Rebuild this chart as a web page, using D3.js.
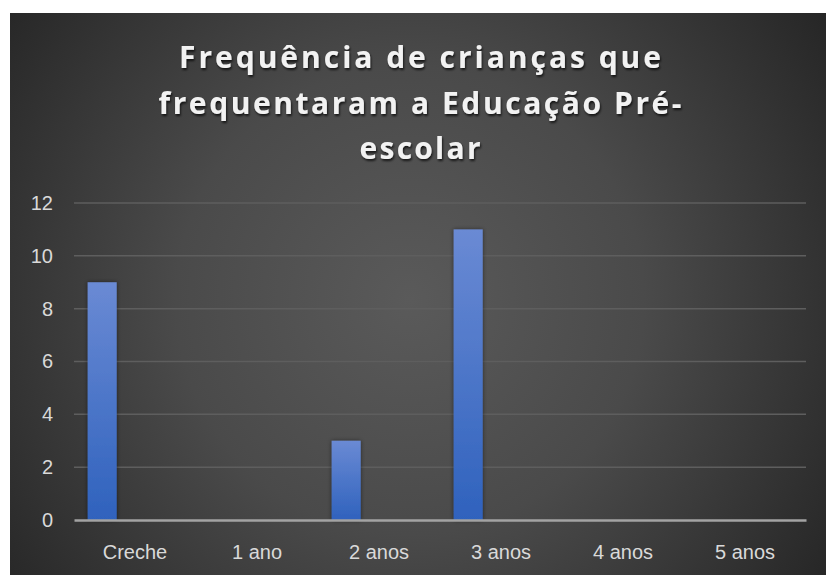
<!DOCTYPE html>
<html>
<head>
<meta charset="utf-8">
<script src="https://cdn.jsdelivr.net/npm/d3@7"></script>
<style>
  html, body { margin: 0; padding: 0; background: #ffffff; }
  svg { display: block; }
</style>
</head>
<body>
<div id="chart"></div>
<script>
// chart data
const categories = ['Creche', '1 ano', '2 anos', '3 anos', '4 anos', '5 anos'];
const values = [9, 0, 3, 11, 0, 0];
const yTicks = [0, 2, 4, 6, 8, 10, 12];
const titleLines = ['Frequência de crianças que', 'frequentaram a Educação Pré-', 'escolar'];

const width = 826;
const height = 575;
const plot = { left: 74, right: 806, top: 203, bottom: 520 };

const svg = d3.select('#chart').append('svg')
  .attr('width', width)
  .attr('height', height)
  .attr('viewBox', `0 0 ${width} ${height}`);

const defs = svg.append('defs');

const bg = defs.append('radialGradient')
  .attr('id', 'bg-grad')
  .attr('gradientUnits', 'userSpaceOnUse')
  .attr('cx', 410).attr('cy', 300).attr('r', 520);
bg.append('stop').attr('offset', '0%').attr('stop-color', '#5a5a5a');
bg.append('stop').attr('offset', '45%').attr('stop-color', '#4a4a4a');
bg.append('stop').attr('offset', '100%').attr('stop-color', '#242424');

const barGrad = defs.append('linearGradient')
  .attr('id', 'bar-grad')
  .attr('x1', 0).attr('y1', 0).attr('x2', 0).attr('y2', 1);
barGrad.append('stop').attr('offset', '0%').attr('stop-color', '#6a8ad4');
barGrad.append('stop').attr('offset', '100%').attr('stop-color', '#2f62bd');

const shadow = defs.append('filter').attr('id', 'txt-shadow')
  .attr('x', '-10%').attr('y', '-30%').attr('width', '120%').attr('height', '160%');
shadow.append('feDropShadow')
  .attr('dx', 1).attr('dy', 2).attr('stdDeviation', 1.2)
  .attr('flood-color', '#000').attr('flood-opacity', 0.7);

const barShadow = defs.append('filter').attr('id', 'bar-shadow')
  .attr('x', '-40%').attr('y', '-10%').attr('width', '180%').attr('height', '120%');
barShadow.append('feDropShadow')
  .attr('dx', 0).attr('dy', 0).attr('stdDeviation', 2)
  .attr('flood-color', '#000').attr('flood-opacity', 0.5);

// chart background
svg.append('rect')
  .attr('x', 10).attr('y', 13)
  .attr('width', width - 10).attr('height', height - 13)
  .attr('fill', 'url(#bg-grad)');

// title
const title = svg.append('text')
  .attr('text-anchor', 'middle')
  .attr('font-family', "'Open Sans', 'Liberation Sans', sans-serif")
  .attr('font-weight', 'bold')
  .attr('font-size', '30px')
  .attr('fill', '#f2f2f2')
  .attr('filter', 'url(#txt-shadow)');
const titleWidths = [482, 523, 121];
titleLines.forEach((line, i) => {
  title.append('tspan')
    .attr('x', 420)
    .attr('y', 68 + i * 45.5)
    .attr('textLength', titleWidths[i])
    .attr('lengthAdjust', 'spacing')
    .text(line);
});

// scales
const x = d3.scaleBand()
  .domain(categories)
  .range([plot.left, plot.right])
  .padding(0);

const y = d3.scaleLinear()
  .domain([0, 12])
  .range([plot.bottom, plot.top]);

// gridlines
svg.append('g')
  .selectAll('line')
  .data(yTicks.filter(d => d > 0))
  .join('line')
  .attr('x1', plot.left).attr('x2', plot.right)
  .attr('y1', d => y(d)).attr('y2', d => y(d))
  .attr('stroke', '#5e5e5e')
  .attr('stroke-width', 1.5);

// y axis labels
const yAxis = svg.append('g')
  .attr('transform', `translate(${plot.left}, 0)`)
  .call(d3.axisLeft(y).tickValues(yTicks).tickSize(0).tickPadding(21));
yAxis.select('.domain').remove();
yAxis.selectAll('text')
  .attr('font-family', "'Liberation Sans', Arial, sans-serif")
  .attr('font-size', '20px')
  .attr('fill', '#d9d9d9');

// bars
const bw = x.bandwidth();
svg.append('g')
  .selectAll('rect')
  .data(values.map((v, i) => ({ cat: categories[i], value: v })).filter(d => d.value > 0))
  .join('rect')
  .attr('x', d => x(d.cat) + bw * 0.112)
  .attr('width', bw * 0.238)
  .attr('y', d => y(d.value))
  .attr('height', d => y(0) - y(d.value))
  .attr('fill', 'url(#bar-grad)')
  .attr('filter', 'url(#bar-shadow)');

// x axis
const xAxis = svg.append('g')
  .attr('transform', `translate(0, ${plot.bottom})`)
  .call(d3.axisBottom(x).tickSize(0).tickPadding(25));
xAxis.select('.domain')
  .attr('stroke', '#a3a3a3')
  .attr('stroke-width', 2.5);
xAxis.selectAll('text')
  .attr('font-family', "'Liberation Sans', Arial, sans-serif")
  .attr('font-size', '20px')
  .attr('fill', '#d9d9d9');
</script>
</body>
</html>
